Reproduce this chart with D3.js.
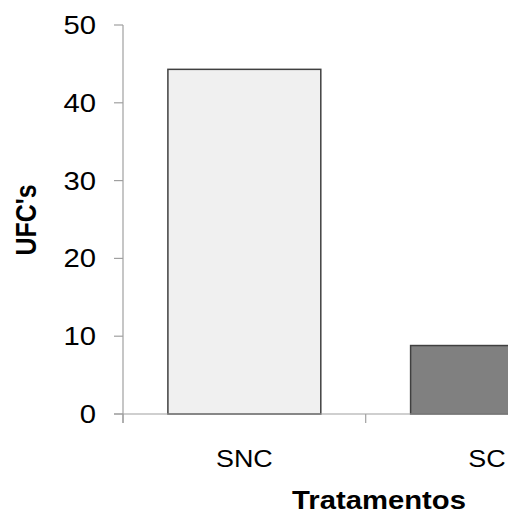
<!DOCTYPE html>
<html>
<head>
<meta charset="utf-8">
<script src="https://cdn.jsdelivr.net/npm/d3@7"></script>
<style>
  html, body { margin: 0; padding: 0; background: #fff; }
  svg { display: block; }
  text { font-family: "Liberation Sans", Arial, sans-serif; fill: #000; }
</style>
</head>
<body>
<script>
const categories = ["SNC", "SC"];
const values = [44.3, 8.8];
const fills = ["#f0f0f0", "#808080"];
const yTicks = [0, 10, 20, 30, 40, 50];
const xTitle = "Tratamentos";
const yTitle = "UFC's";

const W = 508, H = 514;
const x0 = 123, y0 = 414, yTop = 25;
const step = 242.7;
const sx = 1.17; // horizontal stretch of the glyphs

const svg = d3.select("body").append("svg").attr("width", W).attr("height", H);

const y = d3.scaleLinear().domain([0, 50]).range([y0, yTop]);
const x = d3.scaleBand().domain(categories)
  .range([x0, x0 + step * categories.length])
  .paddingInner(0.37).paddingOuter(0.185);

const axisColor = "#a0a0a0";

// bars
svg.selectAll("rect.bar").data(categories).enter().append("rect")
  .attr("class", "bar")
  .attr("x", d => x(d))
  .attr("width", x.bandwidth())
  .attr("y", (d, i) => y(values[i]))
  .attr("height", (d, i) => y(0) - y(values[i]))
  .attr("fill", (d, i) => fills[i])
  .attr("stroke", "#404040")
  .attr("stroke-width", 1.5);

// y axis
svg.append("line").attr("x1", x0).attr("x2", x0).attr("y1", yTop).attr("y2", y0 + 9)
  .attr("stroke", axisColor).attr("stroke-width", 1.2);
svg.selectAll("line.ytick").data(yTicks).enter().append("line")
  .attr("x1", x0 - 9).attr("x2", x0).attr("y1", d => y(d)).attr("y2", d => y(d))
  .attr("stroke", axisColor).attr("stroke-width", 1.2);
svg.selectAll("text.ylab").data(yTicks).enter().append("text")
  .attr("transform", d => `translate(96,${y(d)}) scale(${sx},1)`)
  .attr("text-anchor", "end").attr("dy", "0.36em")
  .style("font-size", "25px")
  .text(d => d);

// x axis
svg.append("line").attr("x1", x0 - 9).attr("x2", W).attr("y1", y0).attr("y2", y0)
  .attr("stroke", axisColor).attr("stroke-width", 1.2);
const bounds = d3.range(categories.length + 1).map(i => x0 + i * x.step());
svg.selectAll("line.xtick").data(bounds).enter().append("line")
  .attr("x1", d => d).attr("x2", d => d).attr("y1", y0).attr("y2", y0 + 9)
  .attr("stroke", axisColor).attr("stroke-width", 1.2);
svg.selectAll("text.xlab").data(categories).enter().append("text")
  .attr("transform", d => `translate(${x(d) + x.bandwidth() / 2},466.5) scale(${sx},1)`)
  .attr("text-anchor", "middle")
  .style("font-size", "23px")
  .text(d => d);

// titles
svg.append("text")
  .attr("transform", `translate(379,508.5) scale(${sx},1)`)
  .attr("text-anchor", "middle")
  .style("font-size", "25px").style("font-weight", "bold")
  .text(xTitle);
svg.append("text")
  .attr("transform", `translate(36,220) scale(${sx},1) rotate(-90)`)
  .attr("text-anchor", "middle")
  .style("font-size", "25px").style("font-weight", "bold")
  .text(yTitle);
</script>
</body>
</html>
